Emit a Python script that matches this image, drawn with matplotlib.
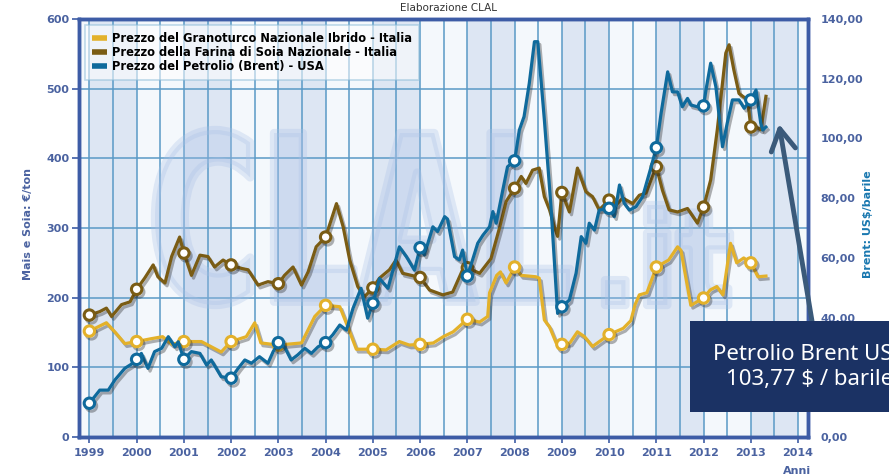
import numpy as np
import matplotlib
matplotlib.use('Agg')
import matplotlib.pyplot as plt
from matplotlib import patheffects as pe
from matplotlib.lines import Line2D
from matplotlib.patches import PathPatch, Rectangle
from matplotlib.textpath import TextPath
from matplotlib.font_manager import FontProperties
from matplotlib.transforms import Affine2D

# --- data (decimal years) ---
mais_x = [1999.0, 1999.36, 1999.55, 1999.75, 2000.0, 2000.3, 2000.55, 2000.75, 2001.0, 2001.37,
          2001.79, 2002.0, 2002.32, 2002.5, 2002.63, 2003.0, 2003.49, 2003.77, 2004.0, 2004.3,
          2004.47, 2004.65, 2005.0, 2005.28, 2005.56, 2005.77, 2006.0, 2006.28, 2006.49, 2006.7,
          2007.0, 2007.26, 2007.43, 2007.47, 2007.62, 2007.7, 2007.82, 2008.0, 2008.14, 2008.45,
          2008.52, 2008.63, 2008.74, 2008.88, 2009.0, 2009.17, 2009.33, 2009.48, 2009.65, 2010.0,
          2010.3, 2010.46, 2010.55, 2010.64, 2010.8, 2011.0, 2011.26, 2011.45, 2011.52, 2011.73,
          2012.0, 2012.14, 2012.28, 2012.41, 2012.57, 2012.7, 2012.85, 2013.0, 2013.15, 2013.32]
mais_y = [152, 164, 150, 134, 137, 141, 144, 133, 137, 137,
          122, 137, 144, 164, 135, 132, 135, 173, 189, 187,
          158, 126, 126, 125, 137, 132, 133, 135, 144, 151,
          169, 165, 173, 207, 232, 237, 221, 244, 232, 230,
          228, 168, 158, 135, 133, 135, 151, 144, 130, 147,
          156, 167, 190, 204, 207, 244, 254, 273, 268, 189,
          199.5, 211, 216, 204, 278, 250, 257, 250, 230, 231]

soia_x = [1999.0, 1999.22, 1999.36, 1999.47, 1999.68, 1999.86, 2000.0, 2000.17, 2000.35, 2000.45,
          2000.6, 2000.74, 2000.91, 2001.0, 2001.16, 2001.34, 2001.51, 2001.65, 2001.83, 2002.0,
          2002.22, 2002.36, 2002.57, 2002.78, 2003.0, 2003.13, 2003.31, 2003.49, 2003.63, 2003.8,
          2004.0, 2004.23, 2004.37, 2004.51, 2004.68, 2004.82, 2005.0, 2005.14, 2005.35, 2005.49,
          2005.63, 2006.0, 2006.2, 2006.48, 2006.69, 2006.9, 2007.0, 2007.26, 2007.5, 2007.68,
          2007.82, 2008.0, 2008.14, 2008.24, 2008.38, 2008.52, 2008.63, 2008.74, 2008.84, 2008.91,
          2009.0, 2009.16, 2009.33, 2009.51, 2009.65, 2009.79, 2010.0, 2010.15, 2010.29, 2010.5,
          2010.64, 2010.78, 2011.0, 2011.13, 2011.27, 2011.45, 2011.66, 2011.87, 2012.0, 2012.15,
          2012.29, 2012.4, 2012.47, 2012.54, 2012.64, 2012.75, 2012.93, 2013.0, 2013.11, 2013.21,
          2013.32]
soia_y = [175, 180, 185, 173, 190, 194, 212, 228, 247, 230,
          221, 259, 287, 264, 232, 261, 259, 244, 254, 247,
          242, 240, 218, 223, 220, 232, 244, 218, 237, 273,
          287, 335, 302, 254, 216, 201, 214, 228, 240, 254,
          235, 229, 211, 204, 208, 240, 243, 235, 256, 300,
          338, 357, 374, 364, 383, 386, 345, 326, 302, 288,
          351, 323, 386, 352, 345, 326, 340, 333, 343, 335,
          347, 350, 388, 354, 326, 323, 328, 307, 330, 369,
          441, 508, 551, 563, 527, 493, 484, 445, 445, 441,
          489]

brent_x = [1999.0, 1999.22, 1999.4, 1999.54, 1999.75, 1999.89, 2000.0, 2000.1, 2000.24, 2000.38,
           2000.53, 2000.67, 2000.81, 2000.88, 2001.0, 2001.16, 2001.34, 2001.48, 2001.58, 2001.79,
           2002.0, 2002.15, 2002.29, 2002.43, 2002.6, 2002.78, 2002.89, 2003.0, 2003.13, 2003.27,
           2003.41, 2003.56, 2003.7, 2003.84, 2004.0, 2004.15, 2004.3, 2004.44, 2004.58, 2004.75,
           2004.89, 2005.0, 2005.14, 2005.32, 2005.56, 2005.71, 2005.88, 2006.0, 2006.09, 2006.27,
           2006.37, 2006.52, 2006.58, 2006.73, 2006.83, 2006.9, 2007.0, 2007.11, 2007.22, 2007.33,
           2007.47, 2007.54, 2007.61, 2007.75, 2007.85, 2008.0, 2008.1, 2008.2, 2008.31, 2008.42,
           2008.49, 2008.63, 2008.77, 2008.91, 2009.0, 2009.16, 2009.3, 2009.41, 2009.51, 2009.58,
           2009.69, 2009.79, 2010.0, 2010.11, 2010.22, 2010.32, 2010.43, 2010.57, 2010.71, 2010.89,
           2011.0, 2011.1, 2011.24, 2011.34, 2011.45, 2011.55, 2011.66, 2011.73, 2011.87, 2012.0,
           2012.05, 2012.15, 2012.26, 2012.4, 2012.5, 2012.61, 2012.75, 2012.86, 2013.0, 2013.11,
           2013.21, 2013.25, 2013.32]
brent_y = [11.3, 15.7, 15.7, 19.1, 23.0, 24.4, 26.0, 28.0, 23.0, 28.6,
           29.7, 33.6, 30.2, 31.9, 26.0, 28.6, 28.0, 24.1, 25.8, 20.2,
           19.7, 23.0, 25.8, 24.7, 26.9, 24.7, 28.6, 31.6, 30.2, 25.8,
           27.5, 29.7, 28.0, 30.2, 31.6, 34.2, 37.5, 35.8, 43.1, 49.8,
           39.8, 44.8, 53.1, 49.8, 63.7, 60.4, 55.9, 63.4, 61.0, 70.4,
           68.8, 73.8, 73.0, 60.4, 59.3, 62.6, 53.9, 59.3, 64.9, 67.6,
           70.4, 75.5, 71.6, 82.7, 90.5, 92.5, 102.8, 107.3, 118.4, 132.4,
           132.4, 106.2, 77.1, 41.4, 43.6, 45.9, 54.8, 67.1, 64.9, 71.6,
           69.3, 76.0, 76.6, 73.8, 84.4, 78.3, 76.0, 77.1, 80.5, 90.5,
           96.9, 108.4, 122.3, 115.6, 115.6, 110.6, 113.4, 111.2, 110.6, 110.9,
           116.2, 125.2, 117.3, 97.2, 105.1, 112.9, 112.9, 110.1, 112.9, 116.2,
           105.1, 102.8, 103.8]

years = list(range(1999, 2015))
left_ticks = [0, 100, 200, 300, 400, 500, 600]
right_ticks = [0, 20, 40, 60, 80, 100, 120, 140]

labels = ['Prezzo del Granoturco Nazionale Ibrido - Italia',
          'Prezzo della Farina di Soia Nazionale - Italia',
          'Prezzo del Petrolio (Brent) - USA']
colors = ['#e3b12a', '#7a5c14', '#0f6a9c']

W, H = 889, 476
spine_c = '#3d5ca6'
tick_c = '#4a62a0'

fig = plt.figure(figsize=(W / 100, H / 100), dpi=100)
ax = fig.add_axes([79 / W, 1 - 437 / H, (808 - 79) / W, (437 - 19) / H])
ax.set_facecolor('#f4f8fc')

# alternating year bands
for yr in range(1999, 2014, 2):
    ax.axvspan(yr, yr + 1, color='#dde6f3', lw=0, zorder=0)


def watermark(text, left, top, right, bottom):
    tp = TextPath((0, 0), text, size=100, prop=FontProperties(family='DejaVu Sans', weight='bold'))
    ext = tp.get_extents()
    sx = (right - left) / W / ext.width
    sy = (bottom - top) / H / ext.height
    tr = Affine2D().translate(-ext.x0, -ext.y0).scale(sx, sy).translate(left / W, 1 - bottom / H)
    ax.add_patch(PathPatch(tp, transform=tr + fig.transFigure, fc='#a9c0e6', ec='#a9c0e6',
                           lw=6, joinstyle='round', alpha=0.3, zorder=0.6))


watermark('CLAL', 155, 130, 570, 305)
watermark('.it', 605, 205, 730, 305)

ax.set_xticks(years)
ax.set_xticks(np.arange(1999.5, 2014, 1), minor=True)
ax.set_yticks(left_ticks)
ax.grid(which='both', axis='x', color='#5a9ac6', lw=1.1, zorder=1)
ax.grid(which='major', axis='y', color='#5a9ac6', lw=1.1, zorder=1)
ax.set_axisbelow(True)

shadow = [pe.SimpleLineShadow(offset=(1.5, -2), shadow_color='#222222', alpha=0.35),
          pe.Normal()]


def draw(axis, xs, ys, color):
    xs = np.array(xs)
    mask = np.isclose(xs, np.round(xs))
    axis.plot(xs, ys, color=color, lw=2.3, zorder=3, path_effects=shadow,
              marker='o', markevery=list(np.where(mask)[0]), ms=7.5,
              mfc='white', mec=color, mew=2.2)


draw(ax, mais_x, mais_y, colors[0])
draw(ax, soia_x, soia_y, colors[1])

ax2 = ax.twinx()
draw(ax2, brent_x, brent_y, colors[2])

ax.set_xlim(1998.78, 2014.21)
ax.set_ylim(0, 600)
ax2.set_ylim(0, 140)
ax2.set_yticks(right_ticks)
ax2.set_yticklabels([f'{v:.2f}'.replace('.', ',') for v in right_ticks])

for a in (ax, ax2):
    for s in a.spines.values():
        s.set_color(spine_c)
        s.set_linewidth(2.5)
ax.tick_params(axis='x', which='major', length=4, width=1.2, color=spine_c, pad=4,
               labelsize=8, labelcolor=tick_c)
ax.tick_params(axis='x', which='minor', length=0)
ax.tick_params(axis='y', length=5, width=1.2, color=spine_c, pad=2,
               labelsize=8, labelcolor=tick_c)
ax2.tick_params(axis='y', length=0, pad=9, labelsize=8, labelcolor=tick_c)
for lab in ax.get_xticklabels() + ax.get_yticklabels() + ax2.get_yticklabels():
    lab.set_fontweight('bold')

handles = [Line2D([], [], color=c, lw=4, solid_capstyle='butt') for c in colors]
leg = ax2.legend(handles, labels, loc='upper left', bbox_to_anchor=(0.008, 0.986),
                 borderaxespad=0, prop=dict(weight='bold', size=8.3), handlelength=1.3,
                 handletextpad=0.5, labelspacing=0.1, borderpad=0.6,
                 fancybox=False, framealpha=0.55, facecolor='white', edgecolor='#8cbcd8')
leg.get_frame().set_linewidth(1.2)
leg.set_zorder(10)

# axis titles
fig.text(28 / W, 1 - 224 / H, 'Mais e Soia: €/ton', rotation=90, ha='center', va='center',
         fontsize=8, fontweight='bold', color=tick_c)
fig.text(868 / W, 1 - 224 / H, 'Brent: US$/barile', rotation=90, ha='center', va='center',
         fontsize=8, fontweight='bold', color='#1a78b0')
fig.text(797 / W, 1 - 471 / H, 'Anni', ha='center', va='center',
         fontsize=8, fontweight='bold', color=tick_c)
fig.text(449 / W, 1 - 8 / H, 'Elaborazione CLAL', ha='center', va='center',
         fontsize=7.5, color='#333333')

# callout box and arrow
fig.add_artist(Rectangle((690 / W, 1 - 412 / H), (900 - 690) / W, 91 / H,
                         transform=fig.transFigure, fc='#1b3264', ec='none', zorder=20))
fig.text(713 / W, 1 - 367 / H, 'Petrolio Brent USA\n103,77 $ / barile', ha='left', va='center',
         ma='center', color='white', fontsize=16, family='Noto Sans', linespacing=1.25,
         zorder=21)
ax2.annotate('', xy=(779 / W, 1 - 124 / H), xycoords='figure fraction',
             xytext=(812 / W, 1 - 321 / H), textcoords='figure fraction',
             arrowprops=dict(arrowstyle='->,head_length=0.7,head_width=0.4', mutation_scale=22,
                             lw=3.5, color='#3b5a7a', shrinkA=0, shrinkB=0),
             annotation_clip=False, zorder=21)

fig.savefig('out.png', dpi=100)
